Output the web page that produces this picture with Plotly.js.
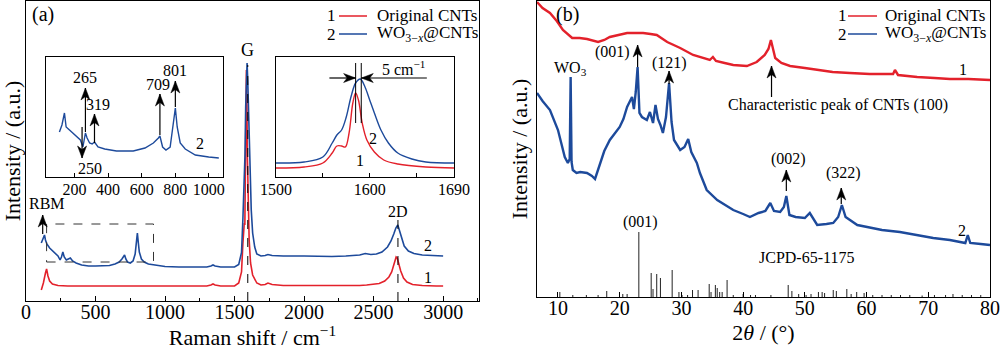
<!DOCTYPE html>
<html>
<head>
<meta charset="utf-8">
<script src="https://cdn.plot.ly/plotly-3.0.1.min.js"></script>
<style>html,body{margin:0;padding:0;background:#fff;}#chart{width:1000px;height:350px;}</style>
</head>
<body>
<div id="chart"></div>
<script>
// ---------- Panel (a): Raman spectra (main) ----------
const ramanRedX = [110,125,140,148,158,170,190,230,300,400,500,600,700,800,900,1000,1100,1200,1300,1330,1345,1360,1400,1450,1500,1530,1550,1560,1565,1570,1574,1578,1582,1585,1588,1592,1597,1605,1615,1630,1660,1690,1720,1740,1770,1850,1950,2000,2100,2200,2300,2400,2450,2500,2540,2580,2610,2630,2645,2655,2662,2670,2680,2695,2715,2740,2780,2850,2950,3000];
const ramanRedY = [11,18,28,32,25,20,17,15.5,15,15,15,15,15,15,15,15,15,15,15,16,17,16,15,15,15,18,29,58,78,78,76,117,203,231,211,145,96,61,38,26,18,16,16.5,18,16.5,15.5,15.5,15.5,15,15,15,15.5,16,16.5,17.5,20,24,29,35,40,44,43,38,30,23,19,16.5,15.5,15,15];
const ramanBlueX = [110,120,133,140,150,170,200,230,245,255,265,275,290,305,319,335,360,400,450,500,550,600,640,670,690,700,709,718,730,750,770,785,795,801,808,815,830,850,880,920,1000,1100,1200,1300,1330,1345,1360,1400,1450,1500,1530,1550,1560,1565,1570,1575,1580,1585,1590,1595,1600,1605,1612,1620,1630,1645,1660,1690,1720,1740,1770,1850,2000,2100,2200,2300,2400,2440,2480,2520,2560,2600,2625,2645,2660,2674,2685,2700,2720,2750,2790,2850,2950,3000];
const ramanBlueY = [58,61,66,61,57,53,49,45,41,44,49,44,41,42,43,40,38,36,35,35,35,35.5,37,39,42,44,46,42,39,38,40,47,60,68,58,49,42,39,37,36,34.5,34,34,34,35,36,35,34,34,34,36.5,48.5,82.5,102,114,146,194,228,238,220,190,160,121,91,68,54,47,45,45.5,46.5,45.5,45,45,44.5,44.5,45,46,47.5,46.5,47,49,54,60,67,73,76,71,62,55,50,47.5,46,45,45];

// ---------- Inset 1: low-frequency region of WO3-x@CNTs ----------
const inset1X = [110,125,140,150,170,190,215,235,250,258,265,275,290,305,319,340,380,450,550,620,670,700,709,725,745,770,785,801,812,830,860,920,1000,1060];
const inset1Y = [45,52,64,50,47,44,40,37,30,37,44,39,34,33,35,30,28,26,26,29,34,39,41,30,27,30,47,69,50,34,28,22,20,19];

// ---------- Inset 2: G band ----------
const inset2RedX = [1500,1530,1550,1560,1565,1570,1574,1578,1582,1585,1588,1592,1597,1605,1615,1630,1660,1690];
const inset2RedY = [9,10,14,24,31,31,30,44,74,84,77,54,37,25,17,13,10,9];
const inset2BlueX = [1500,1530,1550,1560,1565,1570,1575,1580,1585,1590,1595,1600,1605,1612,1620,1630,1645,1660,1690];
const inset2BlueY = [14,15,20,34,42,47,60,80,94,98,90,77,64,47,34,24,18,15,14];
const inset2TickLabels = [1500, 1600, 1690];
const inset2MinorTicks = [1550, 1650];

// ---------- Panel (b): XRD ----------
const xrdRedX = [6.6,7.5,8.7,9.8,10.8,12.3,13.5,14.7,16.5,17.5,18.4,19.8,21.2,22.5,23.8,25.0,26.0,27.7,29.8,31.9,33.5,34.6,35.1,35.6,37.0,38.4,40.6,42.2,43.5,44.1,44.5,44.9,45.2,46.2,47.6,50.0,52.0,54.5,57.3,60.5,64.3,64.6,65.1,68.2,71.0,73.5,76.5,80.0];
const xrdRedY = [295,289,284,276,267,259,259,258,255,257,260,262,264,264,264,263,262,255,249,242,239,237,240,236,234,232,231,235,242,248,257,246,239,234,231,229,227,225,224,223,223,227,222,220,219,218,218,217];
const xrdBlueX = [6.6,7.5,8.7,10.0,11.1,11.6,11.9,12.05,12.2,12.4,13.0,13.6,14.7,15.5,16.0,16.8,17.5,18.4,19.2,20.0,20.6,21.2,22.0,22.3,22.6,22.9,23.2,23.6,24.4,24.9,25.4,25.8,26.2,26.6,27.0,27.5,28.0,28.4,28.8,29.8,30.5,31.1,31.6,32.5,33.0,34.1,35.8,37.0,38.4,40.0,41.1,42.5,43.6,44.4,45.0,46.0,46.6,47.0,47.5,48.5,50.0,50.8,51.3,52.0,53.5,54.6,55.4,56.0,56.6,57.3,58.5,60.1,62.5,65.4,68.0,70.8,73.5,76.0,76.4,76.8,78.5,80.0];
const xrdBlueY = [204,196,187,167,140,134,138,220,135,127,124,125,124,121,118,134,146,157,163,170,178,190,200,188,205,230,184,180,177,185,174,192,178,172,164,180,214,175,157,147,150,158,145,134,124,107,97,92,87,83,80,84,86,94,86,85,90,101,82,80,79,84,79,72,73,74,80,92,80,77,72,70,67,65,62,59,57,54,62,54,53,52];

// JCPDS 65-1175 reference lines
const stickPos = [10.3,12.4,14.6,16.5,17.9,20.5,21.2,23.1,25.1,25.4,26.0,26.6,28.5,29.6,30.1,31.0,31.8,32.7,34.5,34.8,35.5,35.8,36.2,36.6,37.4,38.4,40.0,41.2,42.0,44.5,47.3,47.9,49.0,50.2,51.0,52.2,52.8,53.2,54.6,55.1,56.8,57.5,58.4,59.6,61.0,62.5,64.0,65.5,67.0,69.0,71.0,72.8,74.0,75.5,77.0,78.5];
const stickH = [5,2,2,2,6,3,3,65,24,8,23,19,27,5,2,2,7,7,13,5,12,9,5,5,17,2,3,2,2,2,12,6,3,2,3,5,5,4,7,6,8,3,5,4,2,2,2,2,2,1.5,2,2,3,2,2,2];

const seriesNames = ['Original CNTs', 'WO<sub>3−<i>x</i></sub>@CNTs'];
const seriesNums = ['1', '2'];
const RED = '#e3212b', BLUE = '#1d4a9b';
const FONT = 'Liberation Serif, Times New Roman, serif';

const sx = [], sy = [];
stickPos.forEach((p, i) => { sx.push(p, p, null); sy.push(0, stickH[i], null); });

const traces = [
  {x: ramanRedX, y: ramanRedY, xaxis:'x', yaxis:'y', mode:'lines', name: seriesNames[0], showlegend:false, line:{color:RED, width:1.6}},
  {x: ramanBlueX, y: ramanBlueY, xaxis:'x', yaxis:'y', mode:'lines', name: seriesNames[1], showlegend:false, line:{color:BLUE, width:1.6}},
  {x: inset1X, y: inset1Y, xaxis:'x2', yaxis:'y2', mode:'lines', showlegend:false, line:{color:BLUE, width:1.4}},
  {x: inset2RedX, y: inset2RedY, xaxis:'x3', yaxis:'y3', mode:'lines', showlegend:false, line:{color:RED, width:1.4, shape:'spline'}},
  {x: inset2BlueX, y: inset2BlueY, xaxis:'x3', yaxis:'y3', mode:'lines', showlegend:false, line:{color:BLUE, width:1.4, shape:'spline'}},
  {x: xrdRedX, y: xrdRedY, xaxis:'x4', yaxis:'y4', mode:'lines', name: seriesNames[0], showlegend:false, line:{color:RED, width:2.4}},
  {x: xrdBlueX, y: xrdBlueY, xaxis:'x4', yaxis:'y4', mode:'lines', name: seriesNames[1], showlegend:false, line:{color:BLUE, width:2.4}},
  {x: sx, y: sy, xaxis:'x4', yaxis:'y4', mode:'lines', showlegend:false, line:{color:'#222', width:1}}
];

const frame = {showline:true, mirror:true, linecolor:'#000', linewidth:1, showgrid:false, zeroline:false};
const tf = (s) => ({family: FONT, size: s, color: '#000'});

function txt(xref, yref, x, y, text, size, extra) {
  return Object.assign({xref, yref, x, y, text, showarrow:false, xanchor:'center', yanchor:'middle', font: tf(size || 16)}, extra || {});
}

const shapes = [
  {type:'rect', xref:'x', yref:'y', x0:148, x1:917, y0:39, y1:77, line:{color:'#333', width:1, dash:'dash'}},
  {type:'line', xref:'x', yref:'y', x0:1595, x1:1595, y0:0, y1:236, line:{color:'#000', width:1, dash:'dash'}},
  {type:'line', xref:'x', yref:'y', x0:2675, x1:2675, y0:0, y1:84, line:{color:'#000', width:1, dash:'dash'}},
  {type:'line', xref:'x3', yref:'y3', x0:1585, x1:1585, y0:54, y1:114, line:{color:'#000', width:1}},
  {type:'line', xref:'x3', yref:'y3', x0:1591, x1:1591, y0:54, y1:114, line:{color:'#000', width:1}}
];

// arrow = shaft (line shape) + filled head (pixel-sized path anchored at the tip)
function arrow(xr, yr, x, y, ax, ay) {
  let head;
  if (ax === x) head = (y > ay) ? 'M0,0 L-4.5,-12 L0,-8.5 L4.5,-12 Z' : 'M0,0 L-4.5,12 L0,8.5 L4.5,12 Z';
  else head = (x > ax) ? 'M0,0 L-12,4.5 L-8.5,0 L-12,-4.5 Z' : 'M0,0 L12,4.5 L8.5,0 L12,-4.5 Z';
  shapes.push({type:'line', xref:xr, yref:yr, x0:ax, y0:ay, x1:x, y1:y, line:{color:'#000', width:1.2}});
  shapes.push({type:'path', xref:xr, yref:yr, xsizemode:'pixel', ysizemode:'pixel', xanchor:x, yanchor:y,
               path:head, fillcolor:'#000', line:{color:'#000', width:0.5}});
}

// arrows: (axis refs, tip x, tip y, tail x, tail y)
arrow('x','y', 120, 86, 120, 67);
arrow('x2','y2', 265, 89, 265, 45);
arrow('x2','y2', 319, 63, 319, 34);
arrow('x2','y2', 245, 19, 245, 50);
arrow('x2','y2', 709, 83, 709, 42);
arrow('x2','y2', 801, 96, 801, 70);
arrow('x3','y3', 1585, 99, 1557, 99);
arrow('x3','y3', 1591, 99, 1661, 99);
arrow('x4','y4', 22.9, 252, 22.9, 230);
arrow('x4','y4', 28.0, 226, 28.0, 213);
arrow('x4','y4', 44.6, 231, 44.6, 200);
arrow('x4','y4', 47.0, 127, 47.0, 106);
arrow('x4','y4', 55.9, 109, 55.9, 93);

// manual legends (one per panel): number, line sample, name
const legendRows = [1-16/350, 1-34/350];
const legendPanels = [{num:0.331, l0:0.339, l1:0.367, t:0.375}, {num:0.842, l0:0.848, l1:0.877, t:0.883}];
const legendColors = [RED, BLUE];

const annotations = [
  txt('paper','paper', 0.043, 1-15/350, '(a)', 20),
  txt('paper','paper', 0.567, 1-15/350, '(b)', 20),
  // main (a)
  txt('x','y', 1592, 251, 'G', 18),
  txt('x','y', 2675, 90, '2D', 16),
  txt('x','y', 150, 98, 'RBM', 16),
  txt('x','y', 2890, 56, '2', 16),
  txt('x','y', 2890, 24, '1', 16),
  // inset 1
  txt('x2','y2', 265, 99, '265', 16),
  txt('x2','y2', 340, 72, '319', 16),
  txt('x2','y2', 290, 9, '250', 16),
  txt('x2','y2', 700, 92, '709', 16),
  txt('x2','y2', 801, 106, '801', 16),
  txt('x2','y2', 950, 34, '2', 16),
  // inset 2
  txt('x3','y3', 1636, 109, '5 cm<sup>−1</sup>', 16),
  txt('x3','y3', 1590, 17, '1', 16),
  txt('x3','y3', 1604, 39, '2', 16),
  // panel (b)
  txt('x4','y4', 12.1, 229, 'WO<sub>3</sub>', 16),
  txt('x4','y4', 18.9, 245, '(001)', 16),
  txt('x4','y4', 28.0, 234, '(121)', 16),
  txt('x4','y4', 55.4, 192, 'Characteristic peak of CNTs (100)', 16),
  txt('x4','y4', 47.3, 138, '(002)', 16),
  txt('x4','y4', 56.2, 124, '(322)', 16),
  txt('x4','y4', 50.3, 40, 'JCPD-65-1175', 16),
  txt('x4','y4', 23.3, 75, '(001)', 16),
  txt('x4','y4', 75.6, 228, '1', 16),
  txt('x4','y4', 75.5, 67, '2', 16)
];

legendPanels.forEach(p => {
  seriesNames.forEach((nm, i) => {
    const yy = legendRows[i];
    annotations.push(txt('paper','paper', p.num, yy, seriesNums[i], 17));
    annotations.push(txt('paper','paper', p.t, yy, nm, 17, {xanchor:'left'}));
    shapes.push({type:'line', xref:'paper', yref:'paper', x0:p.l0, x1:p.l1, y0:yy, y1:yy, line:{color:legendColors[i], width:1.5}});
  });
});

const layout = {
  width:1000, height:350, margin:{l:0, r:0, t:0, b:0},
  paper_bgcolor:'#fff', plot_bgcolor:'rgba(0,0,0,0)',
  font: tf(16),
  showlegend:false,
  xaxis: Object.assign({domain:[0.026, 0.479], range:[0, 3258], anchor:'y',
    ticks:'inside', ticklen:5, tickcolor:'#000', dtick:500, tick0:0, tickfont: tf(20), ticklabelstandoff:-7,
    ticklabeloverflow:'allow',
    minor:{ticks:'inside', dtick:250, ticklen:3, tickcolor:'#000'},
    title:{text:'Raman shift / cm<sup>−1</sup>', font: tf(22), standoff:6}}, frame),
  yaxis: Object.assign({domain:[1-301/350, 1-1/350], range:[0, 300], anchor:'x',
    showticklabels:false, ticks:'',
    title:{text:'Intensity / (a.u.)', font: tf(22), standoff:2}}, frame),
  xaxis2: Object.assign({domain:[0.046, 0.223], range:[30, 1085], anchor:'y2',
    ticks:'inside', ticklen:4, tickcolor:'#000', tickvals:[200,400,600,800,1000], tickfont: tf(16), ticklabelstandoff:-2}, frame),
  yaxis2: Object.assign({domain:[1-177/350, 1-57/350], range:[0, 120], anchor:'x2', showticklabels:false, ticks:''}, frame),
  xaxis3: Object.assign({domain:[0.276, 0.454], range:[1500, 1690], anchor:'y3',
    ticks:'inside', ticklen:4, tickcolor:'#000', tickmode:'array', tickvals:inset2TickLabels, tickfont: tf(16), ticklabelstandoff:-2,
    minor:{tickmode:'array', tickvals:inset2MinorTicks, ticks:'inside', ticklen:4, tickcolor:'#000'}}, frame),
  yaxis3: Object.assign({domain:[1-177/350, 1-57/350], range:[0, 120], anchor:'x3', showticklabels:false, ticks:''}, frame),
  xaxis4: Object.assign({domain:[0.537, 0.990], range:[6.6, 80], anchor:'y4',
    ticks:'inside', ticklen:5, tickcolor:'#000', dtick:10, tick0:0, tickfont: tf(20), ticklabelstandoff:-7,
    ticklabeloverflow:'allow',
    title:{text:'2<i>θ</i> / (°)', font: tf(22), standoff:6}}, frame),
  yaxis4: Object.assign({domain:[1-297/350, 1-1/350], range:[0, 296], anchor:'x4',
    showticklabels:false, ticks:'',
    title:{text:'Intensity / (a.u.)', font: tf(22), standoff:2}}, frame),
  annotations, shapes
};

Plotly.newPlot('chart', traces, layout, {displayModeBar:false, staticPlot:true});
</script>
</body>
</html>
